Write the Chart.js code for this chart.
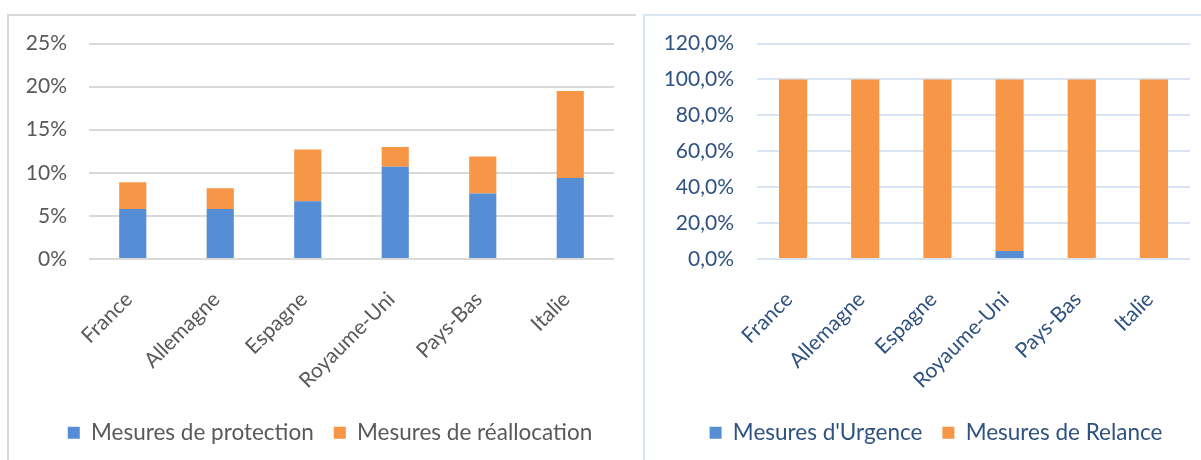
<!DOCTYPE html>
<html lang="fr">
<head>
<meta charset="utf-8">
<title>Mesures par pays</title>
<script src="https://cdn.jsdelivr.net/npm/chart.js@4.4.1/dist/chart.umd.min.js"></script>
<style>
    html, body {
        margin: 0;
        padding: 0;
        width: 1201px;
        height: 460px;
        overflow: hidden;
        background: #ffffff;
    }
    .panel {
        position: absolute;
        top: 14px;
        height: 470px;
        box-sizing: border-box;
    }
    #panelLeft {
        left: 7px;
        width: 629px;
        border-top: 2px solid #d9d9d9;
        border-left: 2px solid #d9d9d9;
    }
    #panelRight {
        left: 643px;
        width: 570px;
        border-top: 2px solid #dae5f3;
        border-left: 2px solid #dae5f3;
    }
    .panel canvas {
        position: absolute;
        left: -1px;
        top: -1px;
    }
</style>
</head>
<body>
<div class="panel" id="panelLeft"><canvas id="chartLeft" width="627" height="439"></canvas></div>
<div class="panel" id="panelRight"><canvas id="chartRight" width="556" height="439"></canvas></div>

<script>
// Données
const pays = ["France", "Allemagne", "Espagne", "Royaume-Uni", "Pays-Bas", "Italie"];

// Graphique de gauche (% du PIB)
const mesuresProtection = [5.8, 5.8, 6.7, 10.7, 7.6, 9.4];
const mesuresReallocation = [3.1, 2.4, 6.0, 2.3, 4.3, 10.1];
const ticksGauche = [0, 5, 10, 15, 20, 25];

// Graphique de droite (% du total)
const mesuresUrgence = [0, 0, 0, 4.5, 0, 0];
const mesuresRelance = [100, 100, 100, 95.5, 100, 100];
const ticksDroite = [0, 20, 40, 60, 80, 100, 120];

const BLEU = "#558ed5";
const ORANGE = "#f79646";
const FONT = "Lato";

// decale la legende horizontalement (elle est centree un peu a droite dans l'original)
const legendShift = {
    id: "legendShift",
    afterLayout(chart, args, opts) {
        const lg = chart.legend;
        if (lg) {
            lg.left += opts.dx;
            lg.right += opts.dx;
        }
    },
};

function buildChart(canvasId, cfg) {
    const ctx = document.getElementById(canvasId).getContext("2d");
    return new Chart(ctx, {
        type: "bar",
        plugins: [legendShift],
        data: {
            labels: pays,
            datasets: [
                {
                    label: cfg.labels[0],
                    data: cfg.series[0],
                    backgroundColor: BLEU,
                    categoryPercentage: 1,
                    barPercentage: cfg.barPct,
                },
                {
                    label: cfg.labels[1],
                    data: cfg.series[1],
                    backgroundColor: ORANGE,
                    categoryPercentage: 1,
                    barPercentage: cfg.barPct,
                },
            ],
        },
        options: {
            responsive: false,
            animation: false,
            layout: {
                padding: { left: 0, right: cfg.padRight, top: 28.5, bottom: 0 },
            },
            plugins: {
                legendShift: { dx: 19 },
                legend: {
                    position: "bottom",
                    labels: {
                        boxWidth: 12,
                        boxHeight: 12,
                        padding: 20,
                        color: cfg.textColor,
                        font: { family: FONT, size: 22.5 },
                    },
                },
                tooltip: { enabled: false },
            },
            scales: {
                x: {
                    stacked: true,
                    grid: { display: false },
                    border: { display: false },
                    ticks: {
                        autoSkip: false,
                        minRotation: 45,
                        maxRotation: 45,
                        padding: 20,
                        labelOffset: -4,
                        color: cfg.textColor,
                        font: { family: FONT, size: 21 },
                    },
                    afterFit: (scale) => {
                        scale.height = 142.5;
                    },
                },
                y: {
                    stacked: true,
                    min: 0,
                    max: cfg.ticks[cfg.ticks.length - 1],
                    afterBuildTicks: (scale) => {
                        scale.ticks = cfg.ticks.map((v) => ({ value: v }));
                    },
                    grid: {
                        color: cfg.gridColor,
                        lineWidth: 2,
                        drawTicks: false,
                    },
                    border: { display: false },
                    ticks: {
                        padding: cfg.tickPad,
                        color: cfg.textColor,
                        font: { family: FONT, size: 21 },
                        callback: cfg.format,
                    },
                    afterFit: (scale) => {
                        scale.width = cfg.axisWidth;
                        // la marge haute est donnee par layout.padding
                        scale.paddingTop = 0;
                        scale.paddingBottom = 0;
                    },
                },
            },
        },
    });
}

buildChart("chartLeft", {
    labels: ["Mesures de protection", "Mesures de réallocation"],
    series: [mesuresProtection, mesuresReallocation],
    ticks: ticksGauche,
    barPct: 0.31,
    padRight: 21,
    axisWidth: 81,
    tickPad: 22,
    textColor: "#595959",
    gridColor: "#d9d9d9",
    format: (v) => v + "%",
});

buildChart("chartRight", {
    labels: ["Mesures d'Urgence", "Mesures de Relance"],
    series: [mesuresUrgence, mesuresRelance],
    ticks: ticksDroite,
    barPct: 0.39,
    padRight: 10,
    axisWidth: 113,
    tickPad: 23,
    textColor: "#2f5281",
    gridColor: "#d9e4f3",
    format: (v) => v.toFixed(1).replace(".", ",") + "%",
});
</script>
</body>
</html>
